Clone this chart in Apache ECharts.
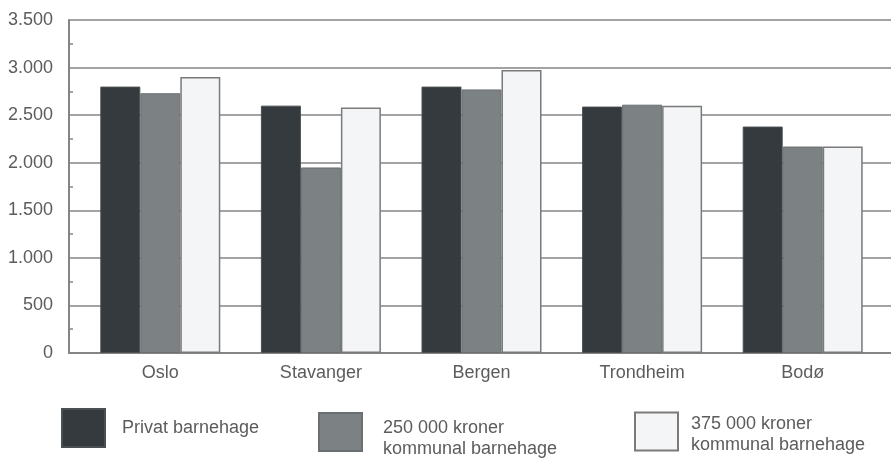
<!DOCTYPE html>
<html>
<head>
<meta charset="utf-8">
<script src="https://cdn.jsdelivr.net/npm/echarts@6/dist/echarts.min.js"></script>
<style>
html,body{margin:0;padding:0;background:#fff;}
#chart{width:891px;height:460px;}
</style>
</head>
<body>
<div id="chart"></div>
<script>
const categories = ['Oslo', 'Stavanger', 'Bergen', 'Trondheim', 'Bodø'];
const privat = [2800, 2600, 2800, 2590, 2380];
const kommunal250 = [2730, 1950, 2770, 2610, 2170];
const kommunal375 = [2900, 2580, 2975, 2600, 2170];
const seriesNames = ['Privat barnehage', '250 000 kroner\nkommunal barnehage', '375 000 kroner\nkommunal barnehage'];
const yTicks = [0, 500, 1000, 1500, 2000, 2500, 3000, 3500];

const font = 'Liberation Sans';
const txt = '#5c5c5c';
const gridColor = '#858585';

const chart = echarts.init(document.getElementById('chart'));
const yMin = yTicks[0], yMax = yTicks[yTicks.length - 1], yStep = yTicks[1] - yTicks[0];

function legendFor(i, left, top, padLeft, spacer) {
  return {
    left: left, top: top, orient: 'vertical',
    selectedMode: false, padding: 0,
    icon: 'rect',
    itemWidth: 43, itemHeight: 38,
    data: [seriesNames[i]],
    formatter: name => {
      const lines = name.split('\n').map(l => '{a|' + l + '}');
      return (spacer ? '{s| }\n' : '') + lines.join('\n');
    },
    textStyle: {
      fontFamily: font, fontSize: 18, color: txt, lineHeight: 21, padding: [0, 0, 0, padLeft],
      rich: {
        a: { fontFamily: font, fontSize: 18, color: txt, lineHeight: 21 },
        s: { fontSize: 4, lineHeight: spacer || 1 }
      }
    }
  };
}

chart.setOption({
  animation: false,
  backgroundColor: '#ffffff',
  grid: [
    { left: 69, right: 0, top: 20, bottom: 107 },
    { left: 80, right: 8, top: 20, bottom: 107 }
  ],
  xAxis: [
    { gridIndex: 0, type: 'category', data: categories,
      axisLine: { show: true, lineStyle: { color: gridColor, width: 2 } },
      axisTick: { show: false }, axisLabel: { show: false }, splitLine: { show: false } },
    { gridIndex: 1, type: 'category', data: categories,
      axisLine: { show: false }, axisTick: { show: false },
      axisLabel: { margin: 11, fontFamily: font, fontSize: 18, color: txt } }
  ],
  yAxis: [
    { gridIndex: 0, type: 'value', min: yMin, max: yMax, interval: yStep,
      axisLine: { show: true, lineStyle: { color: gridColor, width: 2 } },
      axisTick: { show: false, inside: true },
      minorTick: { show: true, splitNumber: 2, length: 4, lineStyle: { color: gridColor, width: 1.5 } },
      splitLine: { show: true, lineStyle: { color: gridColor, width: 1.5 } },
      axisLabel: { margin: 16, fontFamily: font, fontSize: 18, color: txt,
        formatter: v => String(v).replace(/\B(?=(\d{3})+(?!\d))/g, '.') } },
    { gridIndex: 1, type: 'value', min: yMin, max: yMax, interval: yStep,
      show: false, splitLine: { show: false } }
  ],
  legend: [
    legendFor(0, 61, 408, 12, 0),
    legendFor(1, 318, 404, 16, 14),
    legendFor(2, 634, 407, 8, 7)
  ],
  series: [
    { name: seriesNames[0], type: 'bar', xAxisIndex: 1, yAxisIndex: 1, data: privat,
      barWidth: 40, barGap: '0%',
      itemStyle: { color: '#343a3d', borderColor: '#4a4f52', borderWidth: 1 } },
    { name: seriesNames[1], type: 'bar', xAxisIndex: 1, yAxisIndex: 1, data: kommunal250,
      barWidth: 40, barGap: '0%',
      itemStyle: { color: '#7c8184', borderColor: '#6a6f72', borderWidth: 1 } },
    { name: seriesNames[2], type: 'bar', xAxisIndex: 1, yAxisIndex: 1, data: kommunal375,
      barWidth: 40, barGap: '0%',
      itemStyle: { color: '#f3f5f6', borderColor: '#7a7a7a', borderWidth: 1.5 } }
  ]
});
</script>
</body>
</html>
